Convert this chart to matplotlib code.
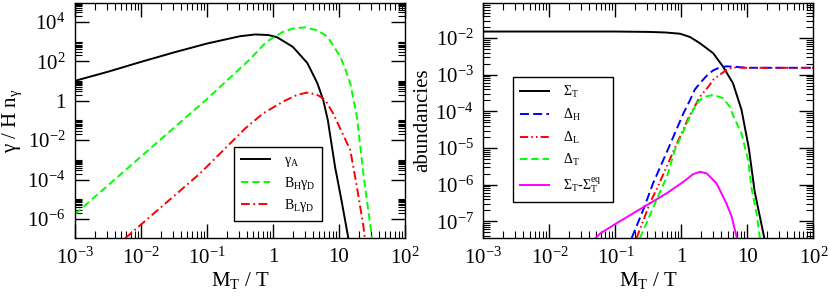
import numpy as np
import matplotlib
matplotlib.use('Agg')
import matplotlib.pyplot as plt
import matplotlib.ticker as mt

plt.rcParams['font.family'] = ['Liberation Serif', 'DejaVu Serif']
plt.rcParams['mathtext.fontset'] = 'custom'
plt.rcParams['mathtext.rm'] = 'Liberation Serif'
plt.rcParams['mathtext.it'] = 'Liberation Serif'
plt.rcParams['mathtext.bf'] = 'Liberation Serif:bold'

# values, stored as log10(M_T/T) and log10(value)
# left panel: gamma / H n_gamma
gA_lx = [-3.0, -2.5, -2.0, -1.5, -1.0, -0.5, -0.27, -0.07, 0.06, 0.30, 0.52, 0.67, 0.76, 0.83, 0.94, 1.04, 1.14]
gA_ly = [1.01, 1.47, 1.97, 2.45, 2.90, 3.27, 3.36, 3.33, 3.22, 2.73, 1.91, 0.90, 0.04, -0.98, -3.36, -5.10, -6.95]

bh_lx = [-3.0, -2.0, -1.0, -0.35, -0.10, 0.15, 0.30, 0.48, 0.66, 0.79, 0.86, 0.94, 1.02, 1.09,
         1.17, 1.22, 1.27, 1.38, 1.50]
bh_ly = [-5.75, -2.83, 0.09, 2.10, 2.99, 3.49, 3.66, 3.72, 3.58, 3.33, 3.07, 2.65, 2.23, 1.64,
         0.88, 0.04, -0.81, -4.00, -6.97]

bl_lx = [-2.24, -1.11, -0.42, -0.15, 0.15, 0.36, 0.51, 0.66, 0.79, 0.91, 1.17, 1.27, 1.37, 1.39]
bl_ly = [-6.97, -3.70, -1.40, -0.64, -0.05, 0.29, 0.41, 0.32, 0.04, -0.64, -2.50, -4.35, -6.38, -6.97]

# right panel: abundancies
sT_lx = [-3.0, -1.0, -0.5, -0.25, -0.02, 0.13, 0.28, 0.48, 0.63, 0.78, 0.91, 1.02, 1.11, 1.26]
sT_ly = [-1.82, -1.82, -1.83, -1.845, -1.88, -1.97, -2.14, -2.41, -2.78, -3.23, -3.96, -5.0, -6.2, -7.5]

dH_lx = [-0.755, -0.58, -0.43, -0.22, 0.03, 0.13, 0.20, 0.28, 0.38, 0.48, 0.58, 0.68, 0.80, 1.0, 2.0]
dH_ly = [-7.46, -6.69, -5.96, -5.10, -4.05, -3.69, -3.41, -3.23, -3.03, -2.88, -2.80, -2.77, -2.78, -2.81, -2.81]

dL_lx = [-0.68, -0.48, -0.38, -0.10, 0.10, 0.28, 0.41, 0.48, 0.58, 0.68, 0.78, 1.0, 2.0]
dL_ly = [-7.46, -6.51, -6.14, -5.00, -4.20, -3.60, -3.32, -3.14, -3.00, -2.87, -2.80, -2.81, -2.81]

dT_lx = [-0.63, -0.53, -0.38, -0.22, -0.10, 0.13, 0.23, 0.33, 0.48, 0.63, 0.73, 0.78, 0.91, 1.01, 1.06, 1.14, 1.19]
dT_ly = [-7.46, -7.05, -6.42, -5.78, -5.05, -4.14, -3.78, -3.61, -3.55, -3.64, -3.87, -4.10, -4.61, -5.34, -6.08, -6.81, -7.49]

sd_lx = [-1.32, -1.23, -0.98, -0.73, -0.48, -0.22, 0.03, 0.18, 0.28, 0.38, 0.53, 0.68, 0.76, 0.84]
sd_ly = [-7.49, -7.33, -7.05, -6.78, -6.51, -6.23, -5.92, -5.71, -5.65, -5.69, -5.96, -6.51, -6.87, -7.46]


def p10(a):
    return np.power(10.0, np.array(a))


def fmt(v, pos):
    e = int(round(np.log10(v)))
    if e == 0:
        return '1'
    if e == 1:
        return '10'
    return '10$^{%d}$' % e


def style(ax, ymaj, ymin):
    ax.set_xscale('log')
    ax.set_yscale('log')
    ax.set_xlim(1e-3, 1e2)
    ax.xaxis.set_major_locator(mt.FixedLocator(p10(range(-3, 3))))
    ax.xaxis.set_minor_locator(mt.LogLocator(base=10, subs=range(2, 10), numticks=20))
    ax.yaxis.set_major_locator(mt.FixedLocator(ymaj))
    ax.yaxis.set_minor_locator(mt.FixedLocator(ymin))
    ax.xaxis.set_major_formatter(mt.FuncFormatter(fmt))
    ax.yaxis.set_major_formatter(mt.FuncFormatter(fmt))
    ax.xaxis.set_minor_formatter(mt.NullFormatter())
    ax.yaxis.set_minor_formatter(mt.NullFormatter())
    ax.tick_params(which='both', direction='in', top=True, right=True, labelsize=15)
    ax.tick_params(which='major', length=10, width=1.0, pad=7)
    ax.tick_params(which='minor', length=5, width=0.8)
    for s in ax.spines.values():
        s.set_linewidth(1.0)
    ax.set_xlabel('M$_T$ / T', fontsize=15, labelpad=1)


def box_legend(ax, anchor, spacing):
    leg = ax.legend(loc='upper left', bbox_to_anchor=anchor, mode='expand',
                    fontsize=10, frameon=True, fancybox=False, handlelength=2.1,
                    borderpad=0.5, labelspacing=spacing, handletextpad=1.0, borderaxespad=0)
    leg.get_frame().set_edgecolor('black')
    leg.get_frame().set_linewidth(1.0)
    leg.get_frame().set_alpha(1)
    return leg


fig = plt.figure(figsize=(8.3, 3.0), dpi=100)
ax1 = fig.add_axes([0.0904, 0.2067, 0.3976, 0.7833])
ax2 = fig.add_axes([0.5825, 0.2067, 0.3976, 0.7833])

# left
maj1 = p10(range(-6, 5, 2))
min1 = np.concatenate([np.arange(2, 11) * 10.0 ** k for k in range(-8, 5, 2)])
style(ax1, maj1, min1)
ax1.set_ylim(1.1e-7, 9e4)
ax1.plot(p10(gA_lx), p10(gA_ly), color='black', lw=1.4, label=r'$\gamma_A$')
ax1.plot(p10(bh_lx), p10(bh_ly), color='#00ff00', lw=1.4, dashes=(3.8, 2.0), label=r'B$_H\gamma_D$')
ax1.plot(p10(bl_lx), p10(bl_ly), color='red', lw=1.4, dashes=(4.5, 1.8, 0.9, 1.8), label=r'B$_L\gamma_D$')
ax1.set_ylabel(r'$\gamma$ / H n$_\gamma$', fontsize=15, labelpad=2)
box_legend(ax1, (0.482, 0.387, 0.266, 0.0), 0.4)

# right
maj2 = p10(range(-7, -1))
min2 = np.concatenate([np.arange(2, 10) * 10.0 ** k for k in range(-8, -1)])
style(ax2, maj2, min2)
ax2.set_ylim(3.5e-8, 9.1e-2)
ax2.plot(p10(sT_lx), p10(sT_ly), color='black', lw=1.4, label=r'$\Sigma_T$')
ax2.plot(p10(dH_lx), p10(dH_ly), color='blue', lw=1.4, dashes=(4.6, 2.2), label=r'$\Delta_H$')
ax2.plot(p10(dL_lx), p10(dL_ly), color='red', lw=1.4, dashes=(4.2, 1.6, 0.8, 1.6, 0.8, 1.6), label=r'$\Delta_L$')
ax2.plot(p10(dT_lx), p10(dT_ly), color='#00ff00', lw=1.4, dashes=(3.8, 2.0), label=r'$\Delta_T$')
ax2.plot(p10(sd_lx), p10(sd_ly), color='magenta', lw=1.4, label=r'$\Sigma_T$-$\Sigma_T^{eq}$')
ax2.set_ylabel('abundancies', fontsize=15, labelpad=2)
box_legend(ax2, (0.089, 0.685, 0.303, 0.0), 0.48)

fig.savefig('out.png', dpi=100)
